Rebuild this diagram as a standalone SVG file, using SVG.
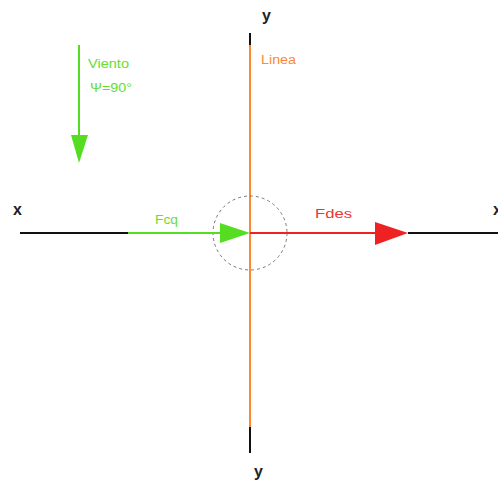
<svg xmlns="http://www.w3.org/2000/svg" width="498" height="481" viewBox="0 0 498 481">
<style>
.lbl{font-family:"Liberation Sans",Arial,sans-serif;font-size:12.5px}
.ax{font-family:"Liberation Sans",Arial,sans-serif;font-size:16px;font-weight:bold;fill:#222}
</style>
<rect width="498" height="481" fill="#fff"/>
<g id="connectors">
<line x1="20" y1="233" x2="128" y2="233" stroke="#111" stroke-width="2"/>
<line x1="408" y1="233" x2="498" y2="233" stroke="#111" stroke-width="2"/>
<line x1="250" y1="33" x2="250" y2="45" stroke="#111" stroke-width="2"/>
<line x1="250" y1="427" x2="250" y2="453" stroke="#111" stroke-width="2"/>
<line x1="250" y1="45" x2="250" y2="427" stroke="#ff8833" stroke-width="2"/>
<circle cx="250" cy="233" r="37" fill="none" stroke="#777" stroke-width="1" stroke-dasharray="3,3"/>
<line x1="128" y1="233" x2="222" y2="233" stroke="#55dd22" stroke-width="2"/>
<polygon points="220,223 250,233 220,243" fill="#55dd22"/>
<line x1="250" y1="233" x2="378" y2="233" stroke="#ee2222" stroke-width="2"/>
<polygon points="375,222 408,233 375,245" fill="#ee2222"/>
<line x1="79" y1="45" x2="79" y2="138" stroke="#55dd22" stroke-width="2"/>
<polygon points="71,135 88,135 79,163" fill="#55dd22"/>
</g>
<g id="labels">
<text class="ax" x="262" y="21">y</text>
<text class="ax" x="254" y="477">y</text>
<text class="ax" x="13" y="215">x</text>
<text class="ax" x="493" y="215">x</text>
<text class="lbl" x="261" y="64" fill="#ff8833" textLength="35" lengthAdjust="spacingAndGlyphs">Linea</text>
<text class="lbl" x="88" y="68" fill="#66dd33" textLength="41" lengthAdjust="spacingAndGlyphs">Viento</text>
<text class="lbl" x="90" y="92" fill="#66dd33" textLength="42" lengthAdjust="spacingAndGlyphs">Ψ=90°</text>
<text class="lbl" x="155" y="224" fill="#66dd33" textLength="23" lengthAdjust="spacingAndGlyphs">Fcq</text>
<text class="lbl" x="315" y="218" fill="#ee3333" textLength="37" lengthAdjust="spacingAndGlyphs">Fdes</text>
</g>
</svg>
